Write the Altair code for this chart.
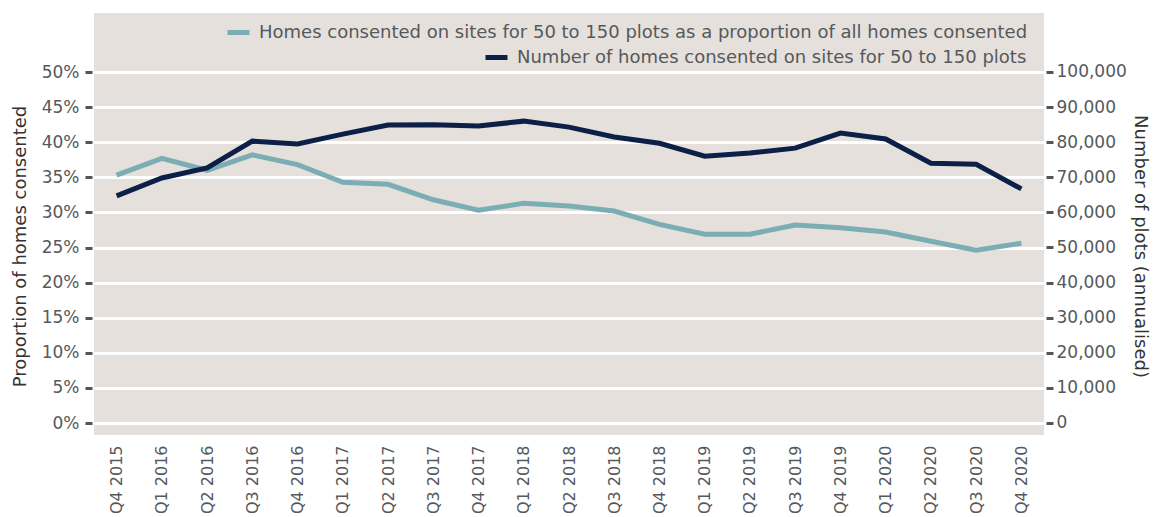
import altair as alt
import pandas as pd

quarters = ["Q4 2015", "Q1 2016", "Q2 2016", "Q3 2016", "Q4 2016", "Q1 2017", "Q2 2017",
            "Q3 2017", "Q4 2017", "Q1 2018", "Q2 2018", "Q3 2018", "Q4 2018", "Q1 2019",
            "Q2 2019", "Q3 2019", "Q4 2019", "Q1 2020", "Q2 2020", "Q3 2020", "Q4 2020"]
share_pct = [35.3, 37.7, 36.0, 38.2, 36.8, 34.3, 34.0, 31.8, 30.3, 31.3, 30.9, 30.2,
             28.3, 26.9, 26.9, 28.2, 27.8, 27.2, 25.9, 24.6, 25.6]
homes = [64700, 69800, 72700, 80300, 79500, 82300, 84900, 85000, 84600, 86000, 84300,
         81500, 79700, 76000, 76900, 78300, 82600, 80900, 74000, 73700, 66700]

share_label = "Homes consented on sites for 50 to 150 plots as a proportion of all homes consented"
homes_label = "Number of homes consented on sites for 50 to 150 plots"

df = pd.DataFrame({
    "quarter": quarters,
    "share": share_pct,
    "homes": homes,
    "s1": [share_label] * len(quarters),
    "s2": [homes_label] * len(quarters),
})

FONT = "DejaVu Sans"
TEAL = "#7badb5"
NAVY = "#0b1f47"
LABEL_GREY = "#55595c"

x = alt.X("quarter:N", sort=quarters, title=None,
          scale=alt.Scale(type="point", padding=0.5),
          axis=alt.Axis(labelAngle=-90, ticks=False, domain=False, labelPadding=10,
                        labelFontSize=16, labelColor=LABEL_GREY, labelFont=FONT))

legend_common = dict(orient="none", title=None, symbolType="stroke",
                     symbolStrokeWidth=5, symbolSize=484, labelFontSize=18,
                     labelColor=LABEL_GREY, labelFont=FONT, labelOffset=7,
                     padding=0, labelLimit=1000)

share_line = alt.Chart(df).mark_line(strokeWidth=5).encode(
    x=x,
    y=alt.Y("share:Q", title="Proportion of homes consented",
            scale=alt.Scale(domain=[-1.709, 58.405], nice=False, zero=False),
            axis=alt.Axis(values=list(range(0, 55, 5)), labelExpr="datum.value + '%'",
                          grid=True, gridColor="white", gridWidth=3, domain=False,
                          tickColor="#555555", tickWidth=3, tickSize=7, offset=2,
                          labelPadding=6, labelFontSize=17, labelColor=LABEL_GREY,
                          labelFont=FONT, titleFont=FONT, titleFontSize=18,
                          titleFontWeight="normal", titleColor="#333333",
                          titlePadding=12, titleY=233)),
    color=alt.Color("s1:N", scale=alt.Scale(domain=[share_label], range=[TEAL]),
                    legend=alt.Legend(legendX=131, legendY=6, **legend_common)),
)

homes_line = alt.Chart(df).mark_line(strokeWidth=5).encode(
    x=x,
    y=alt.Y("homes:Q", title="Number of plots (annualised)",
            scale=alt.Scale(domain=[-3419, 116809], nice=False, zero=False),
            axis=alt.Axis(orient="right", values=list(range(0, 100001, 10000)),
                          format=",.0f", grid=False, domain=False,
                          tickColor="#555555", tickWidth=3, tickSize=7, offset=2,
                          labelPadding=3, labelFontSize=17, labelColor=LABEL_GREY,
                          labelFont=FONT, titleFont=FONT, titleFontSize=18,
                          titleFontWeight="normal", titleColor="#333333",
                          titlePadding=4, titleY=233)),
    stroke=alt.Stroke("s2:N", scale=alt.Scale(domain=[homes_label], range=[NAVY]),
                      legend=alt.Legend(legendX=389, legendY=31, **legend_common)),
)

chart = alt.layer(share_line, homes_line).resolve_scale(
    y="independent"
).properties(
    width=950, height=422,
    background="white",
    autosize=alt.AutoSizeParams(type="none"),
    padding={"left": 86, "top": 5, "right": 111, "bottom": 82},
).configure_view(
    fill="#e5e0db", stroke=None
)

chart.save("out.html", embed_options={"renderer": "svg", "actions": False})
